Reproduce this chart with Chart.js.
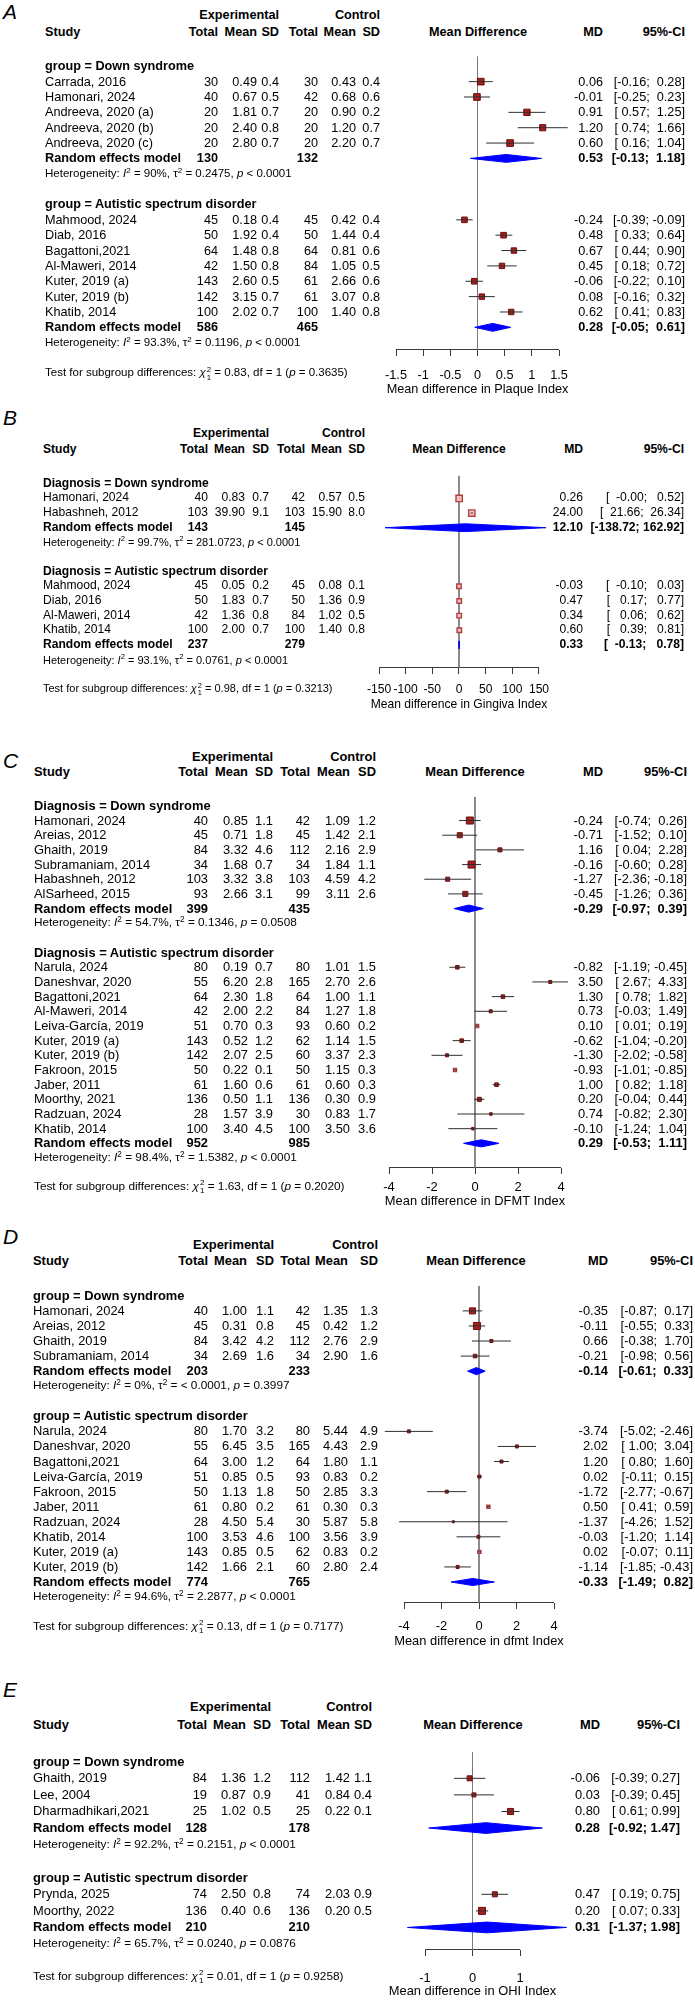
<!DOCTYPE html>
<html><head><meta charset="utf-8">
<script src="https://cdn.jsdelivr.net/npm/chart.js@4.4.1/dist/chart.umd.min.js"></script>
<style>
html,body{margin:0;padding:0;background:#fff;}
#page{position:relative;width:695px;height:2000px;overflow:hidden;font-family:"Liberation Sans",Arial,Helvetica,sans-serif;color:#000;background:#fff;}
#page canvas{position:absolute;left:0;}
.t{position:absolute;white-space:pre;line-height:1.15;}
sup{font-size:0.7em;line-height:0;vertical-align:0.55em;}
.ss{display:inline-block;vertical-align:middle;font-size:0.68em;line-height:0.95;text-align:left;margin-left:1px;}
.ss span{display:block;}
</style></head><body><div id="page"></div>
<script>
// ---------------- Panel A : Plaque Index ----------------
const A_groups = ['group = Down syndrome', 'group = Autistic spectrum disorder'];
const A_study = ['Carrada, 2016','Hamonari, 2024','Andreeva, 2020 (a)','Andreeva, 2020 (b)','Andreeva, 2020 (c)','Mahmood, 2024','Diab, 2016','Bagattoni,2021','Al-Maweri, 2014','Kuter, 2019 (a)','Kuter, 2019 (b)','Khatib, 2014'];
const A_grp = [0,0,0,0,0,1,1,1,1,1,1,1];
const A_eN = [30,40,20,20,20,45,50,64,42,143,142,100];
const A_eMean = [0.49,0.67,1.81,2.40,2.80,0.18,1.92,1.48,1.50,2.60,3.15,2.02];
const A_eSD = [0.4,0.5,0.7,0.8,0.7,0.4,0.4,0.8,0.8,0.5,0.7,0.7];
const A_cN = [30,42,20,20,20,45,50,64,84,61,61,100];
const A_cMean = [0.43,0.68,0.90,1.20,2.20,0.42,1.44,0.81,1.05,2.66,3.07,1.40];
const A_cSD = [0.4,0.6,0.2,0.7,0.7,0.4,0.4,0.6,0.5,0.6,0.8,0.8];
const A_md = [0.06,-0.01,0.91,1.20,0.60,-0.24,0.48,0.67,0.45,-0.06,0.08,0.62];
const A_lo = [-0.16,-0.25,0.57,0.74,0.16,-0.39,0.33,0.44,0.18,-0.22,-0.16,0.41];
const A_hi = [0.28,0.23,1.25,1.66,1.04,-0.09,0.64,0.90,0.72,0.10,0.32,0.83];
const A_w = [21,21,19,18,21,15,15,14,14,15,14,14];
const A_reEN = [130,586];
const A_reCN = [132,465];
const A_reMD = [0.53,0.28];
const A_reLo = [-0.13,-0.05];
const A_reHi = [1.18,0.61];
const A_hetI2 = ['90%','93.3%'];
const A_hetTau2 = ['0.2475','0.1196'];
const A_hetP = ['< 0.0001','< 0.0001'];
const A_test = ['0.83','1','0.3635'];
const A_ticks = [-1.5,-1,-0.5,0,0.5,1,1.5];
const A_xTitle = 'Mean difference in Plaque Index';

// ---------------- Panel B : Gingiva Index ----------------
const B_groups = ['Diagnosis = Down syndrome', 'Diagnosis = Autistic spectrum disorder'];
const B_study = ['Hamonari, 2024','Habashneh, 2012','Mahmood, 2024','Diab, 2016','Al-Maweri, 2014','Khatib, 2014'];
const B_grp = [0,0,1,1,1,1];
const B_eN = [40,103,45,50,42,100];
const B_eMean = [0.83,39.90,0.05,1.83,1.36,2.00];
const B_eSD = [0.7,9.1,0.2,0.7,0.8,0.7];
const B_cN = [42,103,45,50,84,100];
const B_cMean = [0.57,15.90,0.08,1.36,1.02,1.40];
const B_cSD = [0.5,8.0,0.1,0.9,0.5,0.8];
const B_md = [0.26,24.00,-0.03,0.47,0.34,0.60];
const B_lo = [-0.004,21.66,-0.10,0.17,0.06,0.39];
const B_hi = [0.52,26.34,0.03,0.77,0.62,0.81];
const B_w = [50,50,25,25,25,25];
const B_reEN = [143,237];
const B_reCN = [145,279];
const B_reMD = [12.10,0.33];
const B_reLo = [-138.72,-0.13];
const B_reHi = [162.92,0.78];
const B_hetI2 = ['99.7%','93.1%'];
const B_hetTau2 = ['281.0723','0.0761'];
const B_hetP = ['< 0.0001','< 0.0001'];
const B_test = ['0.98','1','0.3213'];
const B_ticks = [-150,-100,-50,0,50,100,150];
const B_xTitle = 'Mean difference in Gingiva Index';

// ---------------- Panel C : DFMT Index ----------------
const C_groups = ['Diagnosis = Down syndrome', 'Diagnosis = Autistic spectrum disorder'];
const C_study = ['Hamonari, 2024','Areias, 2012','Ghaith, 2019','Subramaniam, 2014','Habashneh, 2012','AlSarheed, 2015','Narula, 2024','Daneshvar, 2020','Bagattoni,2021','Al-Maweri, 2014','Leiva-García, 2019','Kuter, 2019 (a)','Kuter, 2019 (b)','Fakroon, 2015','Jaber, 2011','Moorthy, 2021','Radzuan, 2024','Khatib, 2014'];
const C_grp = [0,0,0,0,0,0,1,1,1,1,1,1,1,1,1,1,1,1];
const C_eN = [40,45,84,34,103,93,80,55,64,42,51,143,142,50,61,136,28,100];
const C_eMean = [0.85,0.71,3.32,1.68,3.32,2.66,0.19,6.20,2.30,2.00,0.70,0.52,2.07,0.22,1.60,0.50,1.57,3.40];
const C_eSD = [1.1,1.8,4.6,0.7,3.8,3.1,0.7,2.8,1.8,2.2,0.3,1.2,2.5,0.1,0.6,1.1,3.9,4.5];
const C_cN = [42,45,112,34,103,99,80,165,64,84,93,62,60,50,61,136,30,100];
const C_cMean = [1.09,1.42,2.16,1.84,4.59,3.11,1.01,2.70,1.00,1.27,0.60,1.14,3.37,1.15,0.60,0.30,0.83,3.50];
const C_cSD = [1.2,2.1,2.9,1.1,4.2,2.6,1.5,2.6,1.1,1.8,0.2,1.5,2.3,0.3,0.3,0.9,1.7,3.6];
const C_md = [-0.24,-0.71,1.16,-0.16,-1.27,-0.45,-0.82,3.50,1.30,0.73,0.10,-0.62,-1.30,-0.93,1.00,0.20,0.74,-0.10];
const C_lo = [-0.74,-1.52,0.04,-0.60,-2.36,-1.26,-1.19,2.67,0.78,-0.03,0.01,-1.04,-2.02,-1.01,0.82,-0.04,-0.82,-1.24];
const C_hi = [0.26,0.10,2.28,0.28,-0.18,0.36,-0.45,4.33,1.82,1.49,0.19,-0.20,-0.58,-0.85,1.18,0.44,2.30,1.04];
const C_w = [27,14,9,27,9,14,7,5,7,5,5,7,5,5,7,9,3.5,3.5];
const C_reEN = [399,952];
const C_reCN = [435,985];
const C_reMD = [-0.29,0.29];
const C_reLo = [-0.97,-0.53];
const C_reHi = [0.39,1.11];
const C_hetI2 = ['54.7%','98.4%'];
const C_hetTau2 = ['0.1346','1.5382'];
const C_hetP = ['= 0.0508','< 0.0001'];
const C_test = ['1.63','1','0.2020'];
const C_ticks = [-4,-2,0,2,4];
const C_xTitle = 'Mean difference in DFMT Index';

// ---------------- Panel D : dfmt Index ----------------
const D_groups = ['group = Down syndrome', 'group = Autistic spectrum disorder'];
const D_study = ['Hamonari, 2024','Areias, 2012','Ghaith, 2019','Subramaniam, 2014','Narula, 2024','Daneshvar, 2020','Bagattoni,2021','Leiva-García, 2019','Fakroon, 2015','Jaber, 2011','Radzuan, 2024','Khatib, 2014','Kuter, 2019 (a)','Kuter, 2019 (b)'];
const D_grp = [0,0,0,0,1,1,1,1,1,1,1,1,1,1];
const D_eN = [40,45,84,34,80,55,64,51,50,61,28,100,143,142];
const D_eMean = [1.00,0.31,3.42,2.69,1.70,6.45,3.00,0.85,1.13,0.80,4.50,3.53,0.85,1.66];
const D_eSD = [1.1,0.8,4.2,1.6,3.2,3.5,1.2,0.5,1.8,0.2,5.4,4.6,0.5,2.1];
const D_cN = [42,45,112,34,80,165,64,93,50,61,30,100,62,60];
const D_cMean = [1.35,0.42,2.76,2.90,5.44,4.43,1.80,0.83,2.85,0.30,5.87,3.56,0.83,2.80];
const D_cSD = [1.3,1.2,2.9,1.6,4.9,2.9,1.1,0.2,3.3,0.3,5.8,3.9,0.2,2.4];
const D_md = [-0.35,-0.11,0.66,-0.21,-3.74,2.02,1.20,0.02,-1.72,0.50,-1.37,-0.03,0.02,-1.14];
const D_lo = [-0.87,-0.55,-0.38,-0.98,-5.02,1.00,0.80,-0.11,-2.77,0.41,-4.26,-1.20,-0.07,-1.85];
const D_hi = [0.17,0.33,1.70,0.56,-2.46,3.04,1.60,0.15,-0.67,0.59,1.52,1.14,0.11,-0.43];
const D_w = [20,27,5,7,5,5,5,5,5,5,2.2,5,5,5];
const D_reEN = [203,774];
const D_reCN = [233,765];
const D_reMD = [-0.14,-0.33];
const D_reLo = [-0.61,-1.49];
const D_reHi = [0.33,0.82];
const D_hetI2 = ['0%','94.6%'];
const D_hetTau2 = ['< 0.0001','2.2877'];
const D_hetP = ['= 0.3997','< 0.0001'];
const D_test = ['0.13','1','0.7177'];
const D_ticks = [-4,-2,0,2,4];
const D_xTitle = 'Mean difference in dfmt Index';

// ---------------- Panel E : OHI Index ----------------
const E_groups = ['group = Down syndrome', 'group = Autistic spectrum disorder'];
const E_study = ['Ghaith, 2019','Lee, 2004','Dharmadhikari,2021','Prynda, 2025','Moorthy, 2022'];
const E_grp = [0,0,0,1,1];
const E_eN = [84,19,25,74,136];
const E_eMean = [1.36,0.87,1.02,2.50,0.40];
const E_eSD = [1.2,0.9,0.5,0.8,0.6];
const E_cN = [112,41,25,74,136];
const E_cMean = [1.42,0.84,0.22,2.03,0.20];
const E_cSD = [1.1,0.4,0.1,0.9,0.5];
const E_md = [-0.06,0.03,0.80,0.47,0.20];
const E_lo = [-0.39,-0.39,0.61,0.19,0.07];
const E_hi = [0.27,0.45,0.99,0.75,0.33];
const E_w = [14,9,20,14,27];
const E_reEN = [128,210];
const E_reCN = [178,210];
const E_reMD = [0.28,0.31];
const E_reLo = [-0.92,-1.37];
const E_reHi = [1.47,1.98];
const E_hetI2 = ['92.2%','65.7%'];
const E_hetTau2 = ['0.2151','0.0240'];
const E_hetP = ['< 0.0001','= 0.0876'];
const E_test = ['0.01','1','0.9258'];
const E_ticks = [-1,0,1];
const E_xTitle = 'Mean difference in OHI Index';

// ---------------- layout / style (positions only) ----------------
const FONT = '"Liberation Sans", Arial, Helvetica, sans-serif';
const LAYOUT = {
  A:{label:12, h1:15, h2:32, r0:62.7, dy:15.55, lineTop:53, axisY:350, tickY:375, titleY:389, xL:396, xR:559,
     col:{study:45,eN:218,eM:257,eS:279,cN:318,cM:356,cS:380,mdc:478,md:603,ci:685}, fs:12.7, fsS:11.5, dh:4, k:1.45, light:[], allLight:false},
  B:{label:418, h1:434, h2:450, r0:480, dy:14.95, lineTop:472, axisY:668, tickY:690, titleY:705, xL:379, xR:539,
     col:{study:43,eN:208,eM:245,eS:269,cN:305,cM:342,cS:365,mdc:459,md:583,ci:684}, fs:12.1, fsS:11, dh:4, k:0.9, light:[], allLight:true},
  C:{label:761, h1:757, h2:772, r0:802, dy:14.83, lineTop:793, axisY:1168, tickY:1187, titleY:1201, xL:389, xR:561,
     col:{study:34,eN:208,eM:248,eS:273,cN:310,cM:350,cS:376,mdc:475,md:603,ci:687}, fs:12.9, fsS:11.8, dh:3.6, k:1.35, light:[10,13], allLight:false},
  D:{label:1237, h1:1245, h2:1261, r0:1292, dy:15.25, lineTop:1282, axisY:1603, tickY:1626, titleY:1641, xL:404, xR:554,
     col:{study:33,eN:208,eM:247,eS:274,cN:310,cM:348,cS:378,mdc:476,md:608,ci:693}, fs:12.9, fsS:11.8, dh:3.6, k:1.35, light:[9,12], allLight:false},
  E:{label:1690, h1:1707, h2:1725, r0:1758, dy:16.9, lineTop:1748, axisY:1950, tickY:1978, titleY:1991, xL:425, xR:520,
     col:{study:33,eN:207,eM:246,eS:271,cN:310,cM:350,cS:372,mdc:473,md:600,ci:680}, fs:12.9, fsS:11.8, dh:5.5, k:1.35, light:[], allLight:false}
};

const page = document.getElementById('page');
function esc(s){ return String(s).replace(/&/g,'&amp;').replace(/</g,'&lt;').replace(/>/g,'&gt;'); }
function T(html, x, y, align, size, bold, italic){
  const d = document.createElement('div');
  d.className = 't';
  d.innerHTML = html;
  d.style.fontSize = size + 'px';
  if (bold) d.style.fontWeight = 'bold';
  if (italic) d.style.fontStyle = 'italic';
  d.style.left = x + 'px';
  d.style.top = y + 'px';
  const tx = align === 'right' ? '-100%' : (align === 'center' ? '-50%' : '0');
  d.style.transform = 'translate(' + tx + ',-50%)';
  page.appendChild(d);
  return d;
}

function buildPanel(letter, P, L){
  let r = 0;
  const grpRow = [], studyRow = [], reRow = [], hetRow = [];
  for (let g = 0; g < P.groups.length; g++){
    grpRow[g] = r++;
    P.grp.forEach((gg, i) => { if (gg === g) studyRow[i] = r++; });
    reRow[g] = r++;
    hetRow[g] = r++;
    r++;
  }
  const testRow = r;

  const ticks = P.ticks;
  const tmin = ticks[0], tmax = ticks[ticks.length - 1];
  const ppu = (L.xR - L.xL) / (tmax - tmin);
  const zeroPx = L.xL - tmin * ppu;
  const ext = Math.max(Math.abs(tmin), Math.abs(tmax),
    ...P.lo.map(Math.abs), ...P.hi.map(Math.abs), ...P.reLo.map(Math.abs), ...P.reHi.map(Math.abs)) * 1.05;
  const areaL = zeroPx - ext * ppu, areaR = zeroPx + ext * ppu;

  const canvasTop = L.lineTop - 2;
  const lh = 1.2 * L.fs;
  const canvasH = Math.round(L.titleY + lh / 2 - canvasTop);
  const axisH = canvasH - (L.axisY - canvasTop);
  const tickLen = 6;
  const tickPad = Math.max(0, L.tickY - L.axisY - tickLen - lh / 2);
  const yMin = (L.lineTop - L.r0) / L.dy;
  const yMax = (L.axisY - L.r0) / L.dy;
  const yAxisLine = yMax - 0.5 / L.dy;

  const cv = document.createElement('canvas');
  cv.width = 695; cv.height = canvasH;
  cv.style.top = canvasTop + 'px';
  cv.style.width = '695px'; cv.style.height = canvasH + 'px';
  page.appendChild(cv);

  const ds = [];
  // reference line at 0 and axis baseline spanning the tick range
  ds.push({type:'line', data:[{x:0,y:yMin},{x:0,y:yAxisLine}], borderColor:'#7a7a7a', borderWidth:1, pointRadius:0, order:10, clip:false});
  ds.push({type:'line', data:[{x:tmin,y:yAxisLine},{x:tmax,y:yAxisLine}], borderColor:'#3a3a3a', borderWidth:1, pointRadius:0, order:10, clip:false});
  P.md.forEach((m, i) => {
    ds.push({type:'line', data:[{x:P.lo[i], y:studyRow[i]},{x:P.hi[i], y:studyRow[i]}], borderColor:'#2e2e2e', borderWidth:1, pointRadius:0, order:1, clip:false});
  });
  const isLight = P.md.map((m, i) => L.allLight || L.light.indexOf(i) >= 0);
  ds.push({type:'scatter', data: P.md.map((m, i) => ({x:m, y:studyRow[i]})),
    pointStyle:'rect',
    pointRadius: P.w.map(w => L.k * Math.sqrt(w) / Math.SQRT2),
    backgroundColor: isLight.map(l => l ? '#f2c4c4' : '#a3221f'),
    borderColor: isLight.map(l => l ? '#b43c3c' : '#6a0e0e'),
    borderWidth: isLight.map(l => l ? 1.4 : 1),
    order:2, clip:false});
  const h = L.dh / L.dy;
  P.reMD.forEach((m, g) => {
    const y = reRow[g];
    ds.push({type:'line', data:[{x:P.reLo[g],y:y},{x:m,y:y-h},{x:P.reHi[g],y:y},{x:m,y:y+h},{x:P.reLo[g],y:y}],
      borderColor:'#0000ff', backgroundColor:'#0000ff', borderWidth:1, fill:'shape', tension:0, pointRadius:0, order:0, clip:false});
  });

  const chart = new Chart(cv, {
    type:'scatter',
    data:{datasets:ds},
    options:{
      responsive:false, animation:false, events:[],
      layout:{padding:{left:areaL, right:695 - areaR, top:2, bottom:0}},
      plugins:{legend:{display:false}, tooltip:{enabled:false}},
      scales:{
        x:{type:'linear', min:-ext, max:ext,
          afterBuildTicks: ax => { ax.ticks = ticks.map(v => ({value:v})); },
          afterFit: ax => { ax.height = axisH; },
          grid:{drawOnChartArea:false, drawTicks:true, tickLength:tickLen, color:'#3a3a3a', lineWidth:1},
          border:{display:false},
          ticks:{autoSkip:false, maxRotation:0, minRotation:0, padding:tickPad, color:'#000', font:{family:FONT, size:L.fs}, callback: v => String(v)},
          title:{display:true, text:P.xTitle, color:'#000', font:{family:FONT, size:L.fs}, padding:{top:0, bottom:0}}
        },
        y:{type:'linear', display:false, reverse:true, min:yMin, max:yMax}
      }
    }
  });

  const ys = chart.scales.y;
  const py = row => canvasTop + ys.getPixelForValue(row);
  const c = L.col, fs = L.fs, fsS = L.fsS;

  T(letter, 3, L.label, 'left', 21, false, true);
  T('Experimental', c.eS, L.h1, 'right', fs, true);
  T('Control', c.cS, L.h1, 'right', fs, true);
  T('Study', c.study, L.h2, 'left', fs, true);
  T('Total', c.eN, L.h2, 'right', fs, true);
  T('Mean', c.eM, L.h2, 'right', fs, true);
  T('SD', c.eS, L.h2, 'right', fs, true);
  T('Total', c.cN, L.h2, 'right', fs, true);
  T('Mean', c.cM, L.h2, 'right', fs, true);
  T('SD', c.cS, L.h2, 'right', fs, true);
  T('Mean Difference', c.mdc, L.h2, 'center', fs, true);
  T('MD', c.md, L.h2, 'right', fs, true);
  T('95%-CI', c.ci, L.h2, 'right', fs, true);

  const allLo = P.lo.concat(P.reLo).map(v => v.toFixed(2));
  const allHi = P.hi.concat(P.reHi).map(v => v.toFixed(2));
  const wl = Math.max(...allLo.map(s => s.length));
  const wh = Math.max(...allHi.map(s => s.length));
  const ci = (lo, hi) => '[' + lo.toFixed(2).padStart(wl) + '; ' + hi.toFixed(2).padStart(wh) + ']';

  P.groups.forEach((gl, g) => { T(esc(gl), c.study, py(grpRow[g]), 'left', fs, true); });
  P.study.forEach((s, i) => {
    const y = py(studyRow[i]);
    T(esc(s), c.study, y, 'left', fs);
    T(String(P.eN[i]), c.eN, y, 'right', fs);
    T(P.eMean[i].toFixed(2), c.eM, y, 'right', fs);
    T(P.eSD[i].toFixed(1), c.eS, y, 'right', fs);
    T(String(P.cN[i]), c.cN, y, 'right', fs);
    T(P.cMean[i].toFixed(2), c.cM, y, 'right', fs);
    T(P.cSD[i].toFixed(1), c.cS, y, 'right', fs);
    T(P.md[i].toFixed(2), c.md, y, 'right', fs);
    T(ci(P.lo[i], P.hi[i]), c.ci, y, 'right', fs);
  });
  P.reMD.forEach((m, g) => {
    const y = py(reRow[g]);
    T('Random effects model', c.study, y, 'left', fs, true);
    T(String(P.reEN[g]), c.eN, y, 'right', fs, true);
    T(String(P.reCN[g]), c.cN, y, 'right', fs, true);
    T(m.toFixed(2), c.md, y, 'right', fs, true);
    T(ci(P.reLo[g], P.reHi[g]), c.ci, y, 'right', fs, true);
    const het = 'Heterogeneity: <i>I</i><sup>2</sup> = ' + esc(P.hetI2[g]) + ', <span>&tau;</span><sup>2</sup> = ' + esc(P.hetTau2[g]) + ', <i>p</i> ' + esc(P.hetP[g]);
    T(het, c.study, py(hetRow[g]), 'left', fsS);
  });
  const test = 'Test for subgroup differences: <i>&chi;</i><span class="ss"><span>2</span><span>1</span></span> = ' + P.test[0] + ', df = ' + P.test[1] + ' (<i>p</i> = ' + P.test[2] + ')';
  T(test, c.study, py(testRow), 'left', fsS);
}

function pack(p){
  return {groups:p[0], study:p[1], grp:p[2], eN:p[3], eMean:p[4], eSD:p[5], cN:p[6], cMean:p[7], cSD:p[8],
    md:p[9], lo:p[10], hi:p[11], w:p[12], reEN:p[13], reCN:p[14], reMD:p[15], reLo:p[16], reHi:p[17],
    hetI2:p[18], hetTau2:p[19], hetP:p[20], test:p[21], ticks:p[22], xTitle:p[23]};
}
buildPanel('A', pack([A_groups,A_study,A_grp,A_eN,A_eMean,A_eSD,A_cN,A_cMean,A_cSD,A_md,A_lo,A_hi,A_w,A_reEN,A_reCN,A_reMD,A_reLo,A_reHi,A_hetI2,A_hetTau2,A_hetP,A_test,A_ticks,A_xTitle]), LAYOUT.A);
buildPanel('B', pack([B_groups,B_study,B_grp,B_eN,B_eMean,B_eSD,B_cN,B_cMean,B_cSD,B_md,B_lo,B_hi,B_w,B_reEN,B_reCN,B_reMD,B_reLo,B_reHi,B_hetI2,B_hetTau2,B_hetP,B_test,B_ticks,B_xTitle]), LAYOUT.B);
buildPanel('C', pack([C_groups,C_study,C_grp,C_eN,C_eMean,C_eSD,C_cN,C_cMean,C_cSD,C_md,C_lo,C_hi,C_w,C_reEN,C_reCN,C_reMD,C_reLo,C_reHi,C_hetI2,C_hetTau2,C_hetP,C_test,C_ticks,C_xTitle]), LAYOUT.C);
buildPanel('D', pack([D_groups,D_study,D_grp,D_eN,D_eMean,D_eSD,D_cN,D_cMean,D_cSD,D_md,D_lo,D_hi,D_w,D_reEN,D_reCN,D_reMD,D_reLo,D_reHi,D_hetI2,D_hetTau2,D_hetP,D_test,D_ticks,D_xTitle]), LAYOUT.D);
buildPanel('E', pack([E_groups,E_study,E_grp,E_eN,E_eMean,E_eSD,E_cN,E_cMean,E_cSD,E_md,E_lo,E_hi,E_w,E_reEN,E_reCN,E_reMD,E_reLo,E_reHi,E_hetI2,E_hetTau2,E_hetP,E_test,E_ticks,E_xTitle]), LAYOUT.E);
</script></body></html>
